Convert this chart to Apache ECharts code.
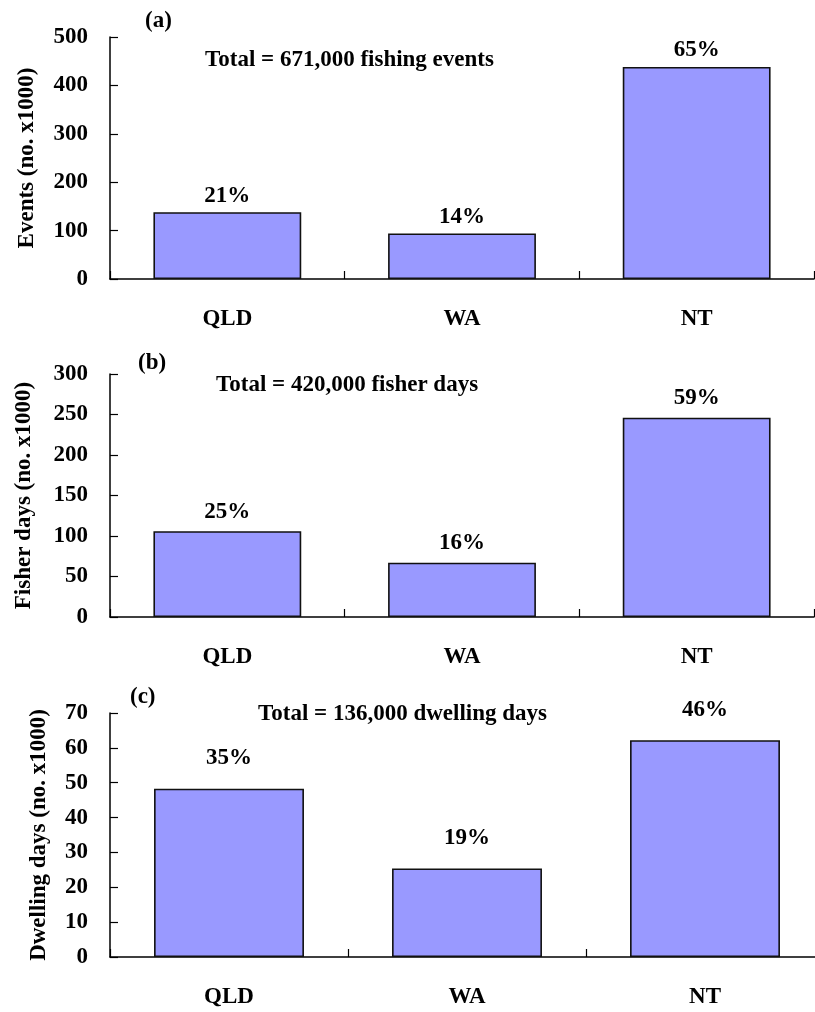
<!DOCTYPE html>
<html>
<head>
<meta charset="utf-8">
<script src="https://cdn.jsdelivr.net/npm/echarts@6/dist/echarts.min.js"></script>
<style>html,body{margin:0;padding:0;background:#fff;overflow:hidden;width:815px;height:1012px;}#c{width:830px;height:1012px;}</style>
</head>
<body>
<div id="c"></div>
<script>
var categories = ['QLD', 'WA', 'NT'];
var eventsValues = [138, 94, 438];
var eventsPct = ['21%', '14%', '65%'];
var fisherValues = [106, 67, 246];
var fisherPct = ['25%', '16%', '59%'];
var dwellingValues = [48.3, 25.4, 62.2];
var dwellingPct = ['35%', '19%', '46%'];
var yTicksA = [0, 500, 100];
var yTicksB = [0, 300, 50];
var yTicksC = [0, 70, 10];

var FONT = '"Liberation Serif", "Times New Roman", serif';
var FS = 23;
var chart = echarts.init(document.getElementById('c'), null, {renderer: 'canvas'});

function xAxis(idx, margin) {
  return {
    type: 'category', gridIndex: idx, data: categories, boundaryGap: true,
    axisLine: {show: true, lineStyle: {color: '#000', width: 1.5}},
    axisTick: {show: true, inside: true, length: 8, interval: 0, lineStyle: {color: '#000', width: 1.2}},
    axisLabel: {margin: margin, fontFamily: FONT, fontWeight: 'bold', fontSize: FS, color: '#000'}
  };
}
function yAxis(idx, ticks, name, gap) {
  return {
    type: 'value', gridIndex: idx, min: ticks[0], max: ticks[1], interval: ticks[2],
    name: name, nameLocation: 'middle', nameGap: gap,
    nameTextStyle: {fontFamily: FONT, fontWeight: 'bold', fontSize: FS, color: '#000'},
    axisLine: {show: true, lineStyle: {color: '#000', width: 1.5}},
    axisTick: {show: true, inside: true, length: 8, lineStyle: {color: '#000', width: 1.2}},
    splitLine: {show: false},
    axisLabel: {margin: 22, fontFamily: FONT, fontWeight: 'bold', fontSize: FS, color: '#000'}
  };
}
function series(idx, values, pct, dist) {
  return {
    type: 'bar', xAxisIndex: idx, yAxisIndex: idx, data: values, barWidth: '63%',
    itemStyle: {color: '#9999FF', borderColor: '#111', borderWidth: 1.6},
    label: {show: true, position: 'top', distance: dist,
      formatter: function (p) { return pct[p.dataIndex]; },
      fontFamily: FONT, fontWeight: 'bold', fontSize: FS, color: '#000'}
  };
}
function txt(x, y, s, size) {
  return {type: 'text', x: x, y: y, style: {text: s, fontFamily: FONT, fontWeight: 'bold', fontSize: size, fill: '#000', verticalAlign: 'middle', align: 'left'}};
}

chart.setOption({
  animation: false,
  backgroundColor: '#fff',
  grid: [
    {left: 110, top: 37, width: 704, height: 242},
    {left: 110, top: 374, width: 704, height: 243},
    {left: 110, top: 713, width: 714, height: 244}
  ],
  xAxis: [xAxis(0, 29), xAxis(1, 29), xAxis(2, 29)],
  yAxis: [
    yAxis(0, yTicksA, 'Events (no. x1000)', 71),
    yAxis(1, yTicksB, 'Fisher days (no. x1000)', 74),
    yAxis(2, yTicksC, 'Dwelling days (no. x1000)', 59)
  ],
  series: [
    series(0, eventsValues, eventsPct, 5),
    series(1, fisherValues, fisherPct, 8),
    series(2, dwellingValues, dwellingPct, 19)
  ],
  graphic: [
    txt(145, 21, '(a)', FS),
    txt(205, 60, 'Total = 671,000 fishing events', FS),
    txt(138, 363, '(b)', FS),
    txt(216, 385, 'Total = 420,000 fisher days', FS),
    txt(130, 697, '(c)', FS),
    txt(258, 714, 'Total = 136,000 dwelling days', FS)
  ]
});
</script>
</body>
</html>
